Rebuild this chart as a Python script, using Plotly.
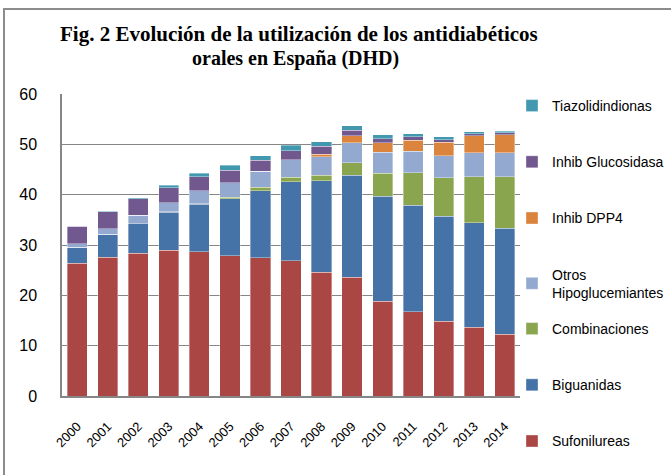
import plotly.graph_objects as go

years = ["2000", "2001", "2002", "2003", "2004", "2005", "2006", "2007",
         "2008", "2009", "2010", "2011", "2012", "2013", "2014"]

sufonilureas = [26.4, 27.6, 28.4, 29.0, 28.7, 27.9, 27.5, 26.9, 24.6, 23.6, 18.8, 16.7, 14.9, 13.7, 12.3]
biguanidas = [3.2, 4.5, 5.8, 7.5, 9.4, 11.3, 13.3, 15.7, 18.2, 20.3, 20.9, 21.2, 20.8, 20.7, 21.0]
combinaciones = [0.0, 0.0, 0.0, 0.1, 0.1, 0.3, 0.7, 0.9, 1.1, 2.4, 4.6, 6.5, 7.7, 9.2, 10.3]
otros = [0.6, 1.1, 1.7, 1.8, 2.6, 2.9, 3.2, 3.4, 3.6, 4.0, 4.1, 4.2, 4.3, 4.7, 4.7]
dpp4 = [0.0, 0.0, 0.0, 0.0, 0.0, 0.0, 0.0, 0.0, 0.5, 1.4, 1.9, 2.2, 2.7, 3.4, 3.6]
glucosidasa = [3.5, 3.4, 3.3, 3.0, 2.8, 2.5, 2.1, 1.8, 1.6, 1.1, 0.8, 0.7, 0.5, 0.4, 0.4]
tiazolidindionas = [0.0, 0.1, 0.2, 0.5, 0.7, 0.9, 0.9, 1.1, 0.9, 0.9, 0.8, 0.6, 0.6, 0.4, 0.3]

series = [
    ("Sufonilureas", sufonilureas, "#AA4643", "legend2"),
    ("Biguanidas", biguanidas, "#4572A7", "legend2"),
    ("Combinaciones", combinaciones, "#89A54E", "legend2"),
    ("Otros<br>Hipoglucemiantes", otros, "#93A9CF", "legend"),
    ("Inhib DPP4", dpp4, "#DB843D", "legend"),
    ("Inhib Glucosidasa", glucosidasa, "#71588F", "legend"),
    ("Tiazolidindionas", tiazolidindionas, "#4198AF", "legend"),
]

fig = go.Figure()
n = len(series)
for i, (name, vals, color, leg) in enumerate(series):
    fig.add_trace(go.Bar(
        x=years, y=vals, name=name,
        marker=dict(color=color, line=dict(color="rgba(255,255,255,0.6)", width=0.6)),
        legendgroup=name, legendrank=n - i, legend=leg,
    ))

font_sans = "Liberation Sans, Arial, sans-serif"
serif = "Liberation Serif, Times New Roman, serif"
legend_common = dict(
    xanchor="left", yanchor="top", traceorder="grouped", tracegroupgap=35,
    maxheight=460, font=dict(family=font_sans, size=14, color="#000"),
    itemwidth=30, bgcolor="rgba(0,0,0,0)",
)
fig.update_layout(
    width=671, height=475,
    barmode="stack", bargap=0.34,
    paper_bgcolor="white", plot_bgcolor="white",
    margin=dict(l=62, r=151, t=94, b=79, autoexpand=False),
    font=dict(family=font_sans, size=13, color="#000000"),
    legend=dict(x=(512 - 62) / 458, y=(396 - 90) / 302, **legend_common),
    legend2=dict(x=(512 - 62) / 458, y=(396 - 313) / 302, **legend_common),
    xaxis=dict(
        tickangle=-45, showline=True, linecolor="#868686", linewidth=1.5,
        ticks="", tickfont=dict(size=13), showgrid=False, ticklabelstandoff=16,
    ),
    yaxis=dict(
        range=[0, 60], dtick=10, showline=True, linecolor="#868686", linewidth=1.5,
        gridcolor="#868686", gridwidth=1.3, ticks="", tickfont=dict(size=16),
        ticklabelstandoff=20, zeroline=False,
    ),
)

fig.add_annotation(
    text="<b>Fig. 2 Evolución de la utilización de los antidiabéticos</b>",
    xref="paper", yref="paper", x=(299 - 62) / 458, y=(396 - 34) / 302,
    xanchor="center", yanchor="middle", showarrow=False,
    font=dict(family=serif, size=21, color="#000"),
)
fig.add_annotation(
    text="<b>orales en España (DHD)</b>", xref="paper", yref="paper",
    x=(295 - 62) / 458, y=(396 - 58) / 302, xanchor="center", yanchor="middle",
    showarrow=False, font=dict(family=serif, size=20, color="#000"),
)

fig.add_shape(
    type="rect", xref="paper", yref="paper",
    x0=(4 - 62) / 458, x1=(700 - 62) / 458,
    y0=(396 - 500) / 302, y1=(396 - 9) / 302,
    line=dict(color="#8C8C8C", width=2), fillcolor="rgba(0,0,0,0)", layer="below",
)

fig.write_html(
    "out.html",
    config={"displayModeBar": False},
    post_script="document.body.style.margin='0';document.body.style.overflow='hidden';",
)
